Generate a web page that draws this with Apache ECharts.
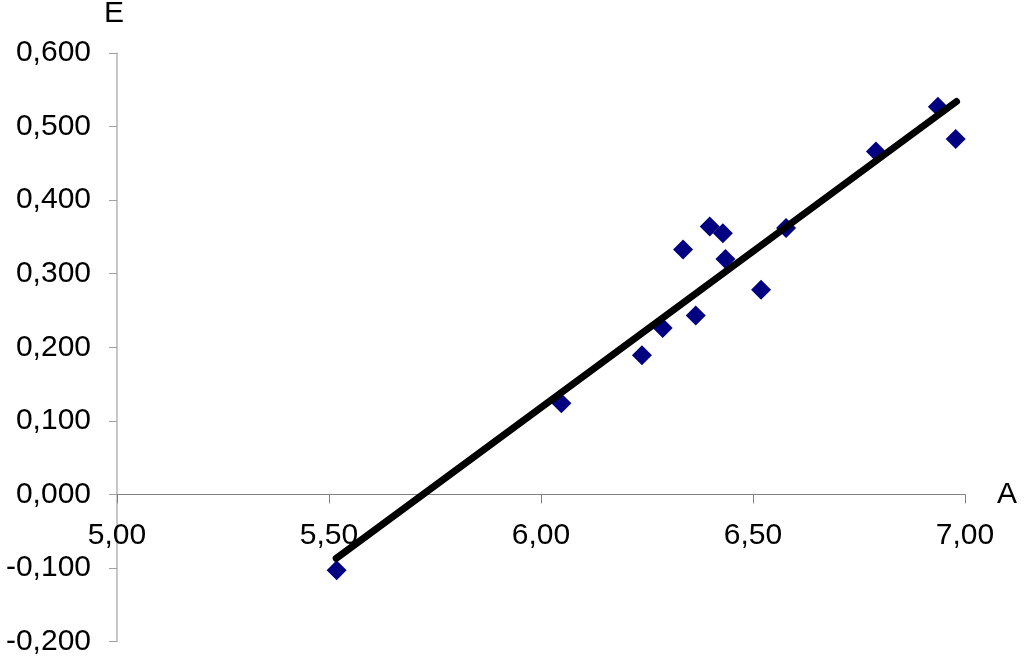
<!DOCTYPE html>
<html>
<head>
<meta charset="utf-8">
<script src="https://cdn.jsdelivr.net/npm/echarts@6/dist/echarts.min.js"></script>
<style>
  html, body { margin: 0; padding: 0; background: #fff; }
  #chart { width: 1024px; height: 663px; }
</style>
</head>
<body>
<div id="chart"></div>
<script>
// measured points (A, E)
const aValues = [5.518, 6.048, 6.238, 6.287, 6.335, 6.365, 6.398, 6.429, 6.435, 6.519, 6.578, 6.790, 6.936, 6.978]
const eValues = [-0.103, 0.124, 0.189, 0.226, 0.333, 0.243, 0.364, 0.355, 0.320, 0.278, 0.362, 0.466, 0.527, 0.483]

// trend line ends
const trendA = [5.517, 6.980]
const trendE = [-0.087, 0.534]

const font = 'Liberation Sans, Arial, sans-serif'

function fmt(v, digits) {
  let s = Math.abs(v) < 1e-9 ? (0).toFixed(digits) : v.toFixed(digits)
  return s.replace('.', ',')
}

const chart = echarts.init(document.getElementById('chart'), null, { renderer: 'canvas' })

const gridTop = 53
const gridBottom = 21.5
const yMin = -0.2
const yMax = 0.6
// x axis sits at E = 0, moved up from the grid bottom
const plotH = 663 - gridTop - gridBottom
const zeroShift = plotH * (0 - yMin) / (yMax - yMin)

chart.setOption({
  backgroundColor: '#ffffff',
  animation: false,
  grid: { left: 117, right: 59, top: gridTop, bottom: gridBottom, outerBoundsMode: 'none', containLabel: false },
  xAxis: {
    type: 'value',
    min: 5,
    max: 7,
    interval: 0.5,
    offset: -zeroShift,
    name: 'A',
    nameLocation: 'end',
    nameGap: 32,
    nameTextStyle: { color: '#000', fontFamily: font, fontSize: 30, align: 'left', verticalAlign: 'middle' },
    axisLine: { onZero: false, lineStyle: { color: '#808080', width: 1 } },
    axisTick: { show: true, inside: false, length: 9, lineStyle: { color: '#808080' } },
    axisLabel: {
      color: '#000',
      fontFamily: font,
      fontSize: 30,
      margin: 26,
      formatter: (v) => fmt(v, 2),
    },
    splitLine: { show: false },
  },
  yAxis: {
    type: 'value',
    min: yMin,
    max: yMax,
    interval: 0.1,
    name: 'E',
    nameLocation: 'end',
    nameGap: 24,
    nameTextStyle: { color: '#000', fontFamily: font, fontSize: 30, padding: [0, 6, 0, 0] },
    axisLine: { show: true, onZero: false, lineStyle: { color: '#b4b4b4', width: 1.5 } },
    axisTick: { show: true, inside: false, length: 8, lineStyle: { color: '#a0a0a0' } },
    axisLabel: {
      color: '#000',
      fontFamily: font,
      fontSize: 30,
      margin: 26,
      formatter: (v) => fmt(v, 3),
    },
    splitLine: { show: false },
  },
  series: [
    {
      type: 'scatter',
      symbol: 'diamond',
      symbolSize: 20,
      itemStyle: { color: '#000080', opacity: 1 },
      data: aValues.map((a, i) => [a, eValues[i]]),
      z: 2,
    },
    {
      type: 'line',
      symbol: 'none',
      lineStyle: { color: '#000', width: 7, cap: 'round' },
      data: trendA.map((a, i) => [a, trendE[i]]),
      z: 3,
    },
  ],
})
</script>
</body>
</html>
